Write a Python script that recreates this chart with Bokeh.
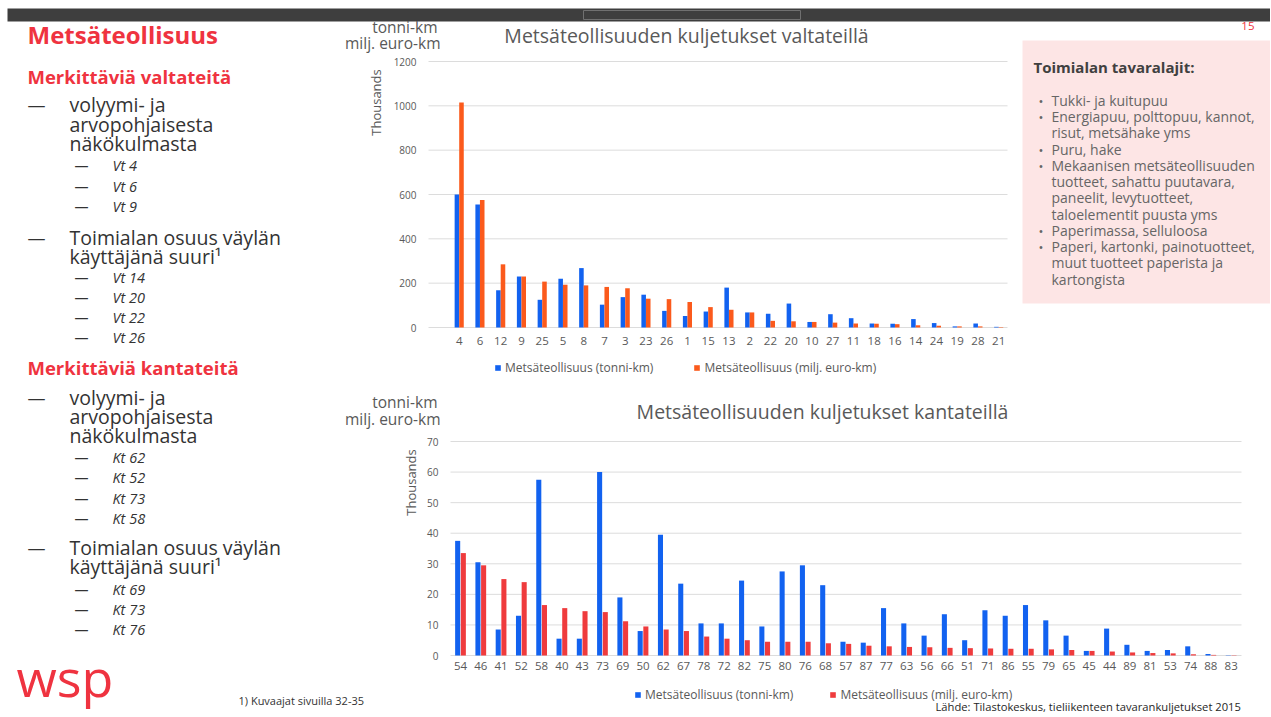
import numpy as np
from bokeh.plotting import figure
from bokeh.models import (Range1d, FixedTicker, Legend, LegendItem, ColumnDataSource,
                          LinearAxis)
from bokeh.transform import dodge
from bokeh.core.properties import value
from bokeh.embed import file_html
from bokeh.resources import INLINE

# ---------------- data ----------------
vt_roads = ["4", "6", "12", "9", "25", "5", "8", "7", "3", "23", "26", "1", "15", "13",
            "2", "22", "20", "10", "27", "11", "18", "16", "14", "24", "19", "28", "21"]
vt_tonni_km = [600, 555, 168, 230, 125, 220, 268, 103, 137, 148, 75, 52, 72, 180,
               68, 62, 108, 25, 60, 42, 18, 17, 38, 20, 5, 18, 3]
vt_euro_km = [1015, 575, 285, 230, 207, 193, 190, 183, 177, 130, 128, 115, 92, 80,
              68, 30, 28, 25, 22, 18, 17, 15, 10, 8, 5, 5, 2]
vt_yticks = [0, 200, 400, 600, 800, 1000, 1200]

kt_roads = ["54", "46", "41", "52", "58", "40", "43", "73", "69", "50", "62", "67", "78",
            "72", "82", "75", "80", "76", "68", "57", "87", "77", "63", "56", "66", "51",
            "71", "86", "55", "79", "65", "45", "44", "89", "81", "53", "74", "88", "83"]
kt_tonni_km = [37.5, 30.5, 8.5, 13, 57.5, 5.5, 5.5, 60, 19, 8, 39.5, 23.5, 10.5,
               10.5, 24.5, 9.5, 27.5, 29.5, 23, 4.5, 4.2, 15.5, 10.5, 6.5, 13.5, 5,
               14.8, 13, 16.5, 11.5, 6.5, 1.5, 8.8, 3.5, 1.5, 1.8, 3, 0.5, 0.1]
kt_euro_km = [33.5, 29.5, 25, 24, 16.5, 15.5, 14.5, 14.2, 11.2, 9.5, 8.5, 8, 6.2,
              5.5, 5, 4.5, 4.5, 4.5, 4, 3.8, 3.2, 3, 2.8, 2.7, 2.5, 2.4,
              2.3, 2.2, 2.2, 2, 1.8, 1.5, 1.3, 1, 0.8, 0.7, 0.4, 0.2, 0.1]
kt_yticks = [0, 10, 20, 30, 40, 50, 60, 70]

series_names = ["Metsäteollisuus (tonni-km)", "Metsäteollisuus (milj. euro-km)"]
title_vt = "Metsäteollisuuden kuljetukset valtateillä"
title_kt = "Metsäteollisuuden kuljetukset kantateillä"
unit_lines = ["tonni-km", "milj. euro-km"]
y_unit = "Thousands"
source_note = "Lähde: Tilastokeskus, tieliikenteen tavarankuljetukset 2015"
footnote = "1) Kuvaajat sivuilla 32-35"
page_no = "15"

page_title = "Metsäteollisuus"
head_vt = "Merkittäviä valtateitä"
head_kt = "Merkittäviä kantateitä"
point_a = ["volyymi- ja", "arvopohjaisesta", "näkökulmasta"]
point_b = ["Toimialan osuus väylän", "käyttäjänä suuri¹"]
vt_a = ["Vt 4", "Vt 6", "Vt 9"]
vt_b = ["Vt 14", "Vt 20", "Vt 22", "Vt 26"]
kt_a = ["Kt 62", "Kt 52", "Kt 73", "Kt 58"]
kt_b = ["Kt 69", "Kt 73", "Kt 76"]

box_title = "Toimialan tavaralajit:"
box_lines = ["Tukki- ja kuitupuu", "Energiapuu, polttopuu, kannot,", "risut, metsähake yms",
             "Puru, hake", "Mekaanisen metsäteollisuuden", "tuotteet, sahattu puutavara,",
             "paneelit, levytuotteet,", "taloelementit puusta yms", "Paperimassa, selluloosa",
             "Paperi, kartonki, painotuotteet,", "muut tuotteet paperista ja", "kartongista"]
box_bullet_rows = [0, 1, 3, 4, 8, 9]

# ---------------- style ----------------
FONT = "Open Sans"
RED = "#ef3340"
BLUE = "#1262f0"
ORANGE = "#fb5a1c"
RED2 = "#ef3b3d"
GREY = "#595959"
DARK = "#333333"
W, H = 1270, 716

p = figure(width=W, height=H, x_range=Range1d(0, W), y_range=Range1d(H, 0),
           x_axis_type=None, y_axis_type=None, output_backend="svg",
           toolbar_location=None, min_border=0)
p.grid.visible = False
p.outline_line_color = None
p.background_fill_color = "white"
p.border_fill_color = "white"


def put(x, y, texts, size, color=DARK, style="normal", align="left", font=FONT,
        baseline="middle", angle=0.0):
    p.text(x=x, y=y, text=texts, text_font=value(font), text_font_size=size,
           text_font_style=style, text_color=color, text_baseline=baseline,
           text_align=align, angle=angle)


def lin_range(v0, p0, v1, p1, total):
    k = (v1 - v0) / (p1 - p0)
    return Range1d(start=v0 - p0 * k, end=v0 + (total - p0) * k)


def bar_chart(name, cats, v1, v2, c1, c2, yticks, x0_px, step_px, y0_px, ytop_px,
              frame_l, frame_r, off, bw, xstand, ystand, leg_loc, leg_spacing):
    n = len(cats)
    xr, yr = name + "_x", name + "_y"
    p.extra_x_ranges[xr] = lin_range(0, x0_px, n - 1, x0_px + step_px * (n - 1), W)
    p.extra_y_ranges[yr] = lin_range(0, H - y0_px, yticks[-1], H - ytop_px, H)
    # gridlines
    p.segment(x0=[frame_l] * len(yticks), x1=[frame_r] * len(yticks), y0=yticks, y1=yticks,
              y_range_name=yr, line_color="#dcdcdc", line_width=1)
    src = ColumnDataSource(dict(idx=list(range(n)), a=v1, b=v2))
    r1 = p.vbar(x=dodge("idx", -off, range=p.extra_x_ranges[xr]), top="a", width=bw,
                source=src, fill_color=c1, line_color=None,
                x_range_name=xr, y_range_name=yr)
    r2 = p.vbar(x=dodge("idx", off, range=p.extra_x_ranges[xr]), top="b", width=bw,
                source=src, fill_color=c2, line_color=None,
                x_range_name=xr, y_range_name=yr)
    yax = LinearAxis(y_range_name=yr, fixed_location=frame_l,
                     ticker=FixedTicker(ticks=yticks))
    xax = LinearAxis(x_range_name=xr, fixed_location=y0_px,
                     ticker=FixedTicker(ticks=list(range(n))),
                     major_label_overrides={i: c for i, c in enumerate(cats)})
    for ax in (xax, yax):
        ax.axis_line_color = None
        ax.major_tick_line_color = None
        ax.minor_tick_line_color = None
        ax.major_tick_in = 0
        ax.major_tick_out = 0
        ax.major_label_text_font = FONT
        ax.major_label_text_color = GREY
    xax.major_label_text_font_size = "11.5px"
    yax.major_label_text_font_size = "10px"
    xax.major_label_standoff = xstand
    yax.major_label_standoff = ystand
    p.add_layout(yax, "left")
    p.add_layout(xax, "below")
    leg = Legend(items=[LegendItem(label=series_names[0], renderers=[r1]),
                        LegendItem(label=series_names[1], renderers=[r2])],
                 location=leg_loc, orientation="horizontal", border_line_color=None,
                 background_fill_alpha=0, padding=0, margin=0, spacing=leg_spacing,
                 glyph_width=7, glyph_height=7, label_standoff=4, label_height=12,
                 label_text_font=FONT, label_text_font_size="12px", label_text_color=GREY)
    p.add_layout(leg)


# ---------------- header bar ----------------
p.quad(left=[7], right=[W], top=[8], bottom=[21], fill_color="#3e3e3e", line_color=None)
p.quad(left=[583], right=[800], top=[10], bottom=[19], fill_color=None,
       line_color="#707070", line_width=1)

# ---------------- left text ----------------
put([27], [34], [page_title], "24px", RED, "bold")
put([27, 27], [76, 367], [head_vt, head_kt], "18.5px", RED, "bold")
put([27] * 4, [104, 237, 397, 547], ["—"] * 4, "18px")
put([69] * 3, [104, 124, 143], point_a, "19.5px")
put([69] * 2, [237, 256], point_b, "19.5px")
put([69] * 3, [397, 416, 435], point_a, "19.5px")
put([69] * 2, [547, 566], point_b, "19.5px")
sub_y_vt = [165, 186, 206, 277, 297, 317, 337]
sub_y_kt = [457, 477, 498, 518, 589, 609, 629]
put([74] * 14, sub_y_vt + sub_y_kt, ["—"] * 14, "14px")
put([112] * 7, sub_y_vt, vt_a + vt_b, "14.5px", DARK, "italic")
put([112] * 7, sub_y_kt, kt_a + kt_b, "14.5px", DARK, "italic")
put([16], [676], ["wsp"], "52px", RED, "normal")
put([238], [700], [footnote], "11px", DARK)

# ---------------- right box ----------------
p.quad(left=[1022], right=[W], top=[40], bottom=[303], fill_color="#fde5e5", line_color=None)
put([1254], [25], [page_no], "11.5px", RED, "normal", "right")
put([1033], [66], [box_title], "15px", "#404040", "bold")
line_y = [100, 116, 132, 149, 165, 181, 197, 214, 230, 246, 262, 279]
put([1051] * len(box_lines), line_y, box_lines, "14px", "#666666")
put([1038] * len(box_bullet_rows), [line_y[i] for i in box_bullet_rows],
    ["•"] * len(box_bullet_rows), "13px", "#666666")

# ---------------- top chart (valtatiet) ----------------
bar_chart("vt", vt_roads, vt_tonni_km, vt_euro_km, BLUE, ORANGE, vt_yticks,
          458.7, 20.75, 327, 61, 428, 1007, 0.11, 0.22, 9, 12, (494, H - 376), 40)
put([686], [35], [title_vt], "19.5px", GREY, "normal", "center")
put([437, 440], [26, 42], unit_lines, "15.5px", GREY, "normal", "right")
put([375], [102], [y_unit], "13px", GREY, "normal", "center", angle=np.pi / 2)

# ---------------- bottom chart (kantatiet) ----------------
bar_chart("kt", kt_roads, kt_tonni_km, kt_euro_km, BLUE, RED2, kt_yticks,
          460, 20.28, 655, 441, 450, 1241, 0.14, 0.25, 6, 12, (634, H - 703), 36)
put([822], [411], [title_kt], "19.5px", GREY, "normal", "center")
put([437, 440], [401, 418], unit_lines, "15.5px", GREY, "normal", "right")
put([410], [482], [y_unit], "13px", GREY, "normal", "center", angle=np.pi / 2)
put([935], [706], [source_note], "11.2px", "#262626")

open("out.html", "w").write(file_html(p, INLINE))
